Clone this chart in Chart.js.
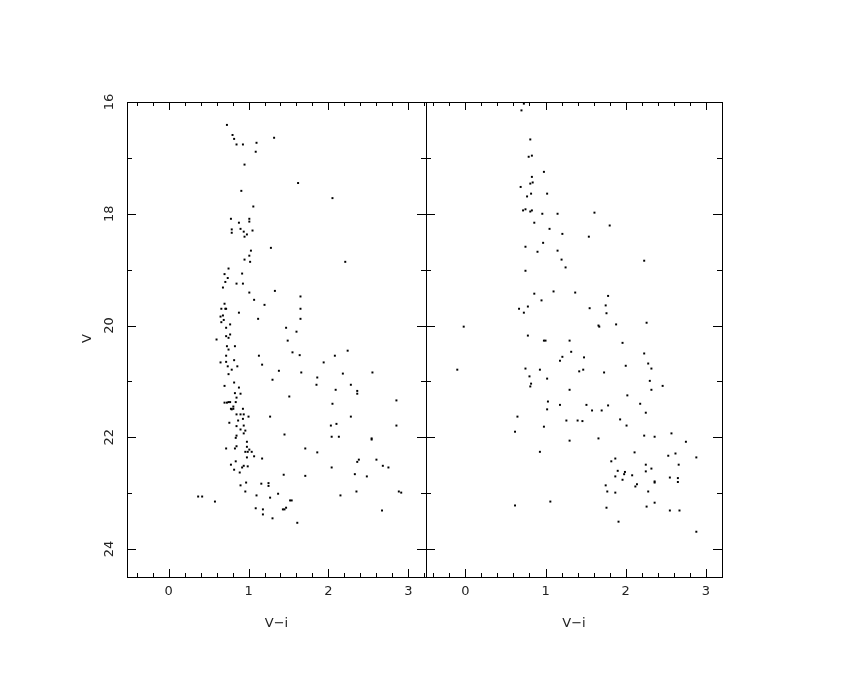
<!DOCTYPE html>
<html>
<head>
<meta charset="utf-8">
<script src="https://cdn.jsdelivr.net/npm/chart.js@4"></script>
<style>
  body { margin: 0; background: #fff; }
  #wrap { position: relative; width: 850px; height: 680px; }
  #wrap canvas { position: absolute; left: 0; top: 0; }
</style>
</head>
<body>
<div id="wrap">
  <canvas id="leftCmd" width="850" height="680"></canvas>
  <canvas id="rightCmd" width="850" height="680"></canvas>
</div>
<script>
// axis labels / ticks
let xTickLabels = [0, 1, 2, 3];
let yTickLabels = [16, 18, 20, 22, 24];
let xTitle = 'V\u2212i';
let yTitle = 'V';

// left panel: V-i colour and V magnitude
let leftVI = [0.73,0.80,0.82,0.85,0.93,1.10,1.09,1.32,0.95,0.91,1.06,0.78,1.01,1.01,0.88,0.90,0.79,0.79,0.94,1.05,
  0.98,0.95,1.28,1.03,1.62,2.05,2.21,1.33,1.65,1.65,1.65,1.47,1.60,1.01,0.95,1.02,0.75,0.70,0.92,0.74,
  0.71,0.85,0.93,0.68,1.01,1.07,1.20,0.70,0.66,0.71,0.72,0.88,0.68,0.65,1.12,0.69,0.66,0.72,0.77,0.77,
  0.72,0.60,0.75,0.73,0.83,0.75,0.72,1.13,0.82,0.65,0.72,1.17,0.86,0.74,0.79,0.75,1.38,1.30,0.82,0.70,
  0.88,0.83,0.90,0.85,0.73,0.70,0.81,0.78,0.93,0.75,0.84,0.77,0.81,0.79,0.85,0.90,0.94,1.00,1.27,0.93,
  0.87,0.76,0.85,0.94,0.90,0.96,0.94,0.85,0.84,0.98,0.98,0.85,0.72,0.83,1.01,0.96,0.99,1.04,0.98,1.07,
  1.17,0.84,0.78,0.94,0.99,0.92,0.82,0.89,0.97,0.90,1.16,1.25,1.25,0.96,1.10,1.37,1.27,0.37,0.42,0.58,
  1.09,1.18,1.18,1.30,1.49,1.55,1.64,2.08,2.24,1.94,1.66,1.86,2.18,2.55,1.85,2.09,2.28,2.36,2.36,1.51,
  2.05,2.85,2.28,2.03,2.10,2.85,1.45,2.04,2.13,2.54,2.54,1.71,1.86,2.38,2.36,2.60,2.68,2.75,2.04,2.33,
  2.48,1.44,1.71,2.35,2.88,2.91,2.15,1.52,1.54,1.47,1.43,1.45,1.61,2.67];
let leftV = [16.41,16.59,16.66,16.76,16.76,16.73,16.89,16.64,17.12,17.59,17.87,18.09,18.09,18.14,18.16,18.27,18.28,18.34,18.32,18.30,
  18.37,18.41,18.61,18.66,17.45,17.72,18.86,19.38,19.48,19.70,19.88,20.04,20.11,18.75,18.82,18.86,18.98,19.08,19.07,19.15,
  19.22,19.25,19.25,19.32,19.41,19.54,19.63,19.61,19.70,19.70,19.70,19.77,19.82,19.84,19.88,19.90,19.94,20.04,19.98,20.16,
  20.19,20.25,20.22,20.37,20.37,20.43,20.54,20.54,20.62,20.66,20.65,20.70,20.73,20.73,20.79,20.87,20.81,20.97,21.02,21.08,
  21.11,21.21,21.22,21.29,21.38,21.38,21.49,21.49,21.49,21.37,21.37,21.37,21.45,21.50,21.59,21.59,21.59,21.63,21.63,21.67,
  21.70,21.74,21.80,21.79,21.86,21.88,21.93,21.97,22.01,22.08,22.17,22.16,22.20,22.20,22.22,22.26,22.26,22.26,22.36,22.34,
  22.38,22.43,22.49,22.51,22.52,22.54,22.58,22.63,22.81,22.86,22.83,22.82,22.87,22.97,23.04,23.01,23.08,23.06,23.06,23.15,
  23.27,23.29,23.38,23.45,20.27,20.48,20.53,20.54,20.45,20.66,20.84,20.93,20.86,20.84,21.06,21.15,21.06,21.17,21.22,21.27,
  21.40,21.34,21.63,21.79,21.76,21.79,21.95,21.99,21.99,22.02,22.04,22.20,22.27,22.40,22.44,22.40,22.51,22.54,22.54,22.66,
  22.70,22.67,22.69,22.97,22.97,22.99,23.04,23.13,23.13,23.26,23.29,23.29,23.53,23.31];

// right panel
let rightVI = [0.73,0.70,0.81,0.79,0.83,0.98,0.83,0.81,0.84,0.69,0.82,0.77,1.02,0.72,0.75,0.81,0.83,0.96,1.15,0.86,
  1.05,1.21,0.97,0.75,0.90,1.15,1.20,1.25,0.75,1.10,1.37,0.86,0.95,0.67,0.78,0.73,-0.02,1.61,1.80,1.54,
  2.23,1.78,1.55,1.75,1.76,1.66,1.67,1.88,2.26,0.78,0.98,1.00,1.30,1.32,1.21,1.18,-0.10,0.75,0.93,1.42,
  0.80,1.02,0.82,0.81,1.30,1.03,1.18,1.02,0.65,1.26,1.40,0.98,0.62,1.30,0.93,0.62,1.06,1.96,1.48,1.47,
  1.73,2.00,2.23,2.28,2.32,2.30,2.32,2.46,2.02,2.18,2.25,1.51,1.58,1.70,1.78,1.46,1.93,2.01,1.66,2.23,
  2.36,2.57,2.75,2.11,2.53,2.62,2.88,1.87,1.82,2.66,2.25,2.32,1.90,1.99,1.98,2.25,2.08,1.87,1.96,2.55,
  2.65,2.65,2.36,2.36,1.75,2.12,2.14,1.77,1.87,2.28,2.36,2.26,1.76,2.55,2.67,1.91,2.88];
let rightV = [16.03,16.15,16.67,16.98,16.96,17.25,17.34,17.46,17.44,17.52,17.64,17.69,17.64,17.94,17.92,17.96,17.94,18.00,18.00,18.16,
  18.27,18.36,18.52,18.59,18.68,18.66,18.82,18.96,19.02,19.39,19.41,19.43,19.55,19.70,19.66,19.77,20.02,17.98,18.21,18.41,
  18.84,19.47,19.69,19.64,19.78,20.00,20.02,19.98,19.95,20.18,20.27,20.27,20.27,20.47,20.56,20.63,20.79,20.77,20.79,20.82,
  20.91,20.95,21.04,21.09,21.15,21.36,21.42,21.50,21.63,21.70,21.70,21.81,21.90,22.06,22.26,23.22,23.15,20.31,20.57,20.79,
  20.84,20.72,20.50,20.68,20.77,20.99,21.15,21.08,21.25,21.40,21.56,21.42,21.52,21.52,21.43,21.71,21.68,21.79,22.02,21.97,
  21.99,21.93,22.08,22.27,22.33,22.29,22.36,22.38,22.43,22.49,22.49,22.56,22.60,22.62,22.66,22.61,22.68,22.70,22.76,22.72,
  22.73,22.80,22.79,22.81,22.86,22.88,22.84,22.97,22.99,22.97,23.17,23.24,23.26,23.31,23.31,23.51,23.69];

const FONT = '13px "DejaVu Sans", sans-serif';
const INK = '#222';

// draws the pgplot-like box: frame, inward ticks, labels
function boxPlugin(opts) {
  return {
    id: 'pgbox',
    afterDraw(chart) {
      const c = chart.ctx, a = chart.chartArea;
      const xs = chart.scales.x, ys = chart.scales.y;
      c.save();
      c.strokeStyle = '#000';
      c.lineWidth = 1;
      c.strokeRect(Math.round(a.left) + 0.5, Math.round(a.top) + 0.5,
        Math.round(a.right - a.left), Math.round(a.bottom - a.top));
      c.beginPath();
      // x ticks every 0.2, major on integers
      for (let k = Math.ceil(xs.min * 5); k <= Math.floor(xs.max * 5); k++) {
        const px = Math.round(xs.getPixelForValue(k / 5)) + 0.5;
        const len = (k % 5 === 0) ? 8 : 4;
        c.moveTo(px, a.top); c.lineTo(px, a.top + len);
        c.moveTo(px, a.bottom); c.lineTo(px, a.bottom - len);
      }
      // y ticks every 1, major on even
      for (let v = Math.ceil(ys.min); v <= Math.floor(ys.max); v++) {
        const py = Math.round(ys.getPixelForValue(v)) + 0.5;
        const len = (v % 2 === 0) ? 9 : 5;
        c.moveTo(a.left, py); c.lineTo(a.left + len, py);
        c.moveTo(a.right, py); c.lineTo(a.right - len, py);
      }
      c.stroke();

      c.fillStyle = INK;
      c.font = FONT;
      c.textAlign = 'center';
      c.textBaseline = 'middle';
      xTickLabels.forEach(v => {
        c.fillText(String(v), xs.getPixelForValue(v), a.bottom + 15);
      });
      c.fillText(xTitle, (a.left + a.right) / 2, a.bottom + 47);
      if (opts.leftLabels) {
        yTickLabels.forEach(v => {
          c.save();
          c.translate(a.left - 17, ys.getPixelForValue(v));
          c.rotate(-Math.PI / 2);
          c.fillText(String(v), 0, 0);
          c.restore();
        });
        c.save();
        c.translate(a.left - 39, (a.top + a.bottom) / 2 - 1);
        c.rotate(-Math.PI / 2);
        c.fillText(yTitle, 0, 0);
        c.restore();
      }
      c.restore();
    }
  };
}

function makePanel(id, xv, yv, xmin, xmax, pad, leftLabels) {
  const pts = xv.map((x, i) => ({ x: x, y: yv[i] }));
  return new Chart(document.getElementById(id), {
    type: 'scatter',
    data: {
      datasets: [{
        data: pts,
        pointStyle: 'rect',
        pointRadius: 1.4,
        pointBorderWidth: 0,
        backgroundColor: '#000',
        borderColor: '#000'
      }]
    },
    options: {
      responsive: false,
      animation: false,
      layout: { padding: pad },
      plugins: { legend: { display: false }, tooltip: { enabled: false } },
      scales: {
        x: { type: 'linear', min: xmin, max: xmax, display: false },
        y: { type: 'linear', min: 16, max: 24.5, reverse: true, display: false }
      }
    },
    plugins: [boxPlugin({ leftLabels: leftLabels })]
  });
}

makePanel('leftCmd', leftVI, leftV, -0.52, 3.22, { left: 127, right: 424, top: 102, bottom: 103 }, true);
makePanel('rightCmd', rightVI, rightV, -0.49, 3.2, { left: 426, right: 128, top: 102, bottom: 103 }, false);
</script>
</body>
</html>
